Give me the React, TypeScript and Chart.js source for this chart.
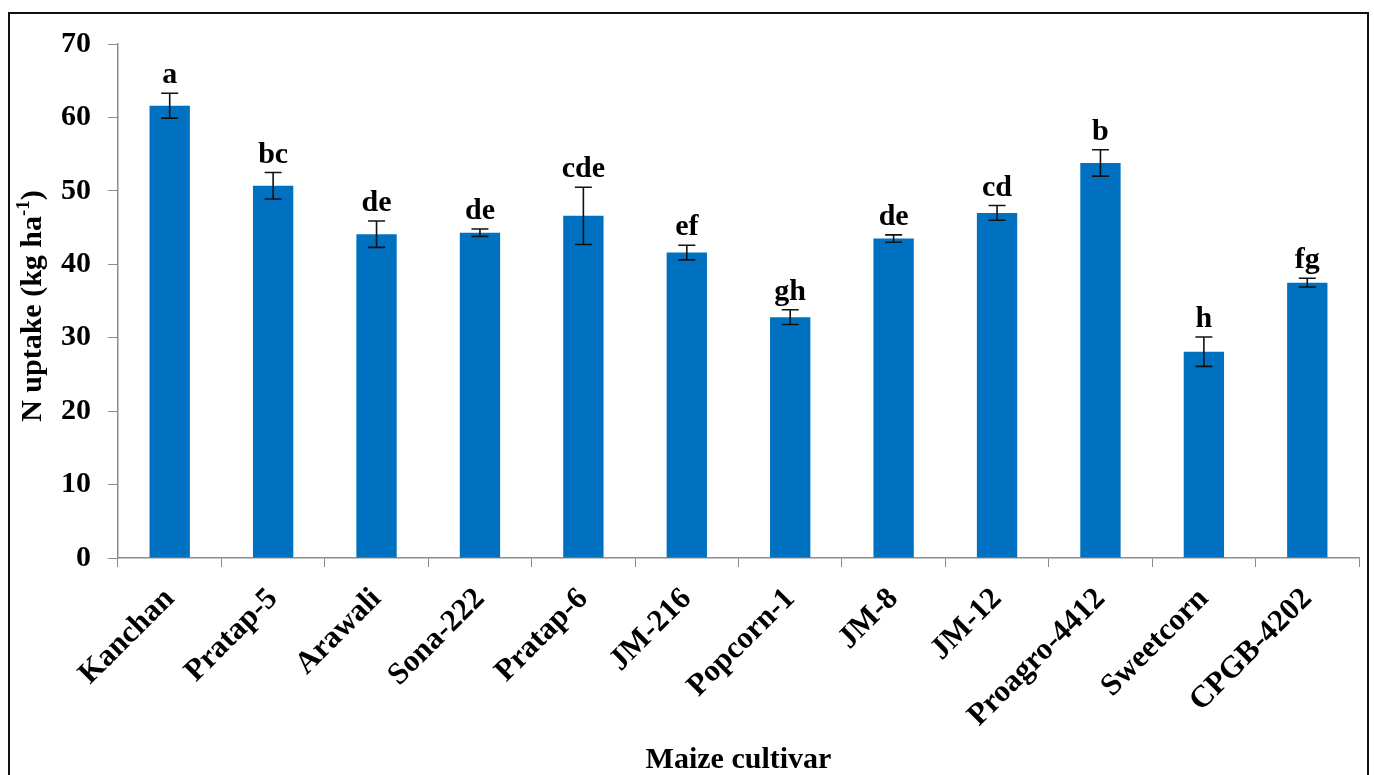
import React, { useEffect, useRef } from "react";
import { Chart, registerables } from "chart.js";

Chart.register(...registerables);

const categories = [
  "Kanchan",
  "Pratap-5",
  "Arawali",
  "Sona-222",
  "Pratap-6",
  "JM-216",
  "Popcorn-1",
  "JM-8",
  "JM-12",
  "Proagro-4412",
  "Sweetcorn",
  "CPGB-4202",
];
const nUptake = [61.6, 50.7, 44.1, 44.3, 46.6, 41.6, 32.8, 43.5, 47.0, 53.8, 28.1, 37.5];
const errors = [1.7, 1.8, 1.8, 0.5, 3.9, 1.0, 1.0, 0.5, 1.0, 1.8, 2.0, 0.6];
const letters = ["a", "bc", "de", "de", "cde", "ef", "gh", "de", "cd", "b", "h", "fg"];
const yMin = 0;
const yMax = 70;
const yStep = 10;
const xTitle = "Maize cultivar";
const yTitleMain = "N uptake (kg ha";
const yTitleSup = "-1";
const yTitleEnd = ")";

const FONT = "'Liberation Serif', 'Times New Roman', serif";
const AXIS_GRAY = "#8c8c8c";

const overlayPlugin = {
  id: "overlay",
  afterDatasetsDraw(chart: any) {
    const ctx = chart.ctx as CanvasRenderingContext2D;
    const xs = chart.scales.x;
    const ys = chart.scales.y;
    const area = chart.chartArea;
    ctx.save();
    // error bars + letters
    nUptake.forEach((v, i) => {
      const cx = xs.getPixelForValue(i);
      const top = ys.getPixelForValue(v + errors[i]);
      const bot = ys.getPixelForValue(v - errors[i]);
      ctx.strokeStyle = "#111";
      ctx.lineWidth = 1.6;
      ctx.beginPath();
      ctx.moveTo(cx, top);
      ctx.lineTo(cx, bot);
      ctx.moveTo(cx - 8.5, top);
      ctx.lineTo(cx + 8.5, top);
      ctx.moveTo(cx - 8.5, bot);
      ctx.lineTo(cx + 8.5, bot);
      ctx.stroke();
      ctx.fillStyle = "#000";
      ctx.font = `bold 30px ${FONT}`;
      ctx.textAlign = "center";
      ctx.textBaseline = "alphabetic";
      ctx.fillText(letters[i], cx, top - 10);
    });

    // x title
    ctx.fillStyle = "#000";
    ctx.font = `bold 30px ${FONT}`;
    ctx.textAlign = "center";
    ctx.textBaseline = "alphabetic";
    ctx.fillText(xTitle, (area.left + area.right) / 2, 768);

    // y title with superscript
    ctx.save();
    ctx.translate(33, (area.top + area.bottom) / 2 + 5);
    ctx.rotate(-Math.PI / 2);
    ctx.textAlign = "left";
    ctx.textBaseline = "middle";
    ctx.font = `bold 30px ${FONT}`;
    const w1 = ctx.measureText(yTitleMain).width;
    const w3 = ctx.measureText(yTitleEnd).width;
    ctx.font = `bold 19px ${FONT}`;
    const w2 = ctx.measureText(yTitleSup).width;
    const total = w1 + w2 + w3;
    let px = -total / 2;
    ctx.font = `bold 30px ${FONT}`;
    ctx.fillText(yTitleMain, px, 0);
    px += w1;
    ctx.font = `bold 19px ${FONT}`;
    ctx.fillText(yTitleSup, px, -9);
    px += w2;
    ctx.font = `bold 30px ${FONT}`;
    ctx.fillText(yTitleEnd, px, 0);
    ctx.restore();

    // outer frame
    ctx.strokeStyle = "#111";
    ctx.lineWidth = 2;
    ctx.strokeRect(9, 13, 1359, 800);
    ctx.restore();
  },
};

export default function App() {
  const canvasRef = useRef<HTMLCanvasElement | null>(null);

  useEffect(() => {
    if (!canvasRef.current) return;
    const chart = new Chart(canvasRef.current, {
      type: "bar",
      data: {
        labels: categories,
        datasets: [
          {
            data: nUptake,
            backgroundColor: "#0070C0",
            borderWidth: 0,
            barPercentage: 0.39,
            categoryPercentage: 1,
          },
        ],
      },
      options: {
        responsive: false,
        animation: false,
        layout: { padding: { left: 0, top: 44, right: 15, bottom: 0 } },
        plugins: {
          legend: { display: false },
          tooltip: { enabled: false },
          title: { display: false },
        },
        scales: {
          x: {
            afterFit(scale: any) {
              scale.height = 217;
            },
            grid: {
              display: true,
              drawOnChartArea: false,
              drawTicks: true,
              tickLength: 9,
              color: AXIS_GRAY,
              offset: true,
            },
            border: { display: true, color: AXIS_GRAY, width: 1.5 },
            ticks: {
              minRotation: 45,
              maxRotation: 45,
              autoSkip: false,
              color: "#000",
              padding: 14,
              font: { family: FONT, size: 31, weight: "bold" },
            },
          },
          y: {
            min: yMin,
            max: yMax,
            afterFit(scale: any) {
              scale.width = 118;
            },
            grid: {
              display: true,
              drawOnChartArea: false,
              drawTicks: true,
              tickLength: 10,
              color: AXIS_GRAY,
            },
            border: { display: true, color: AXIS_GRAY, width: 1.5 },
            ticks: {
              stepSize: yStep,
              color: "#000",
              padding: 17,
              font: { family: FONT, size: 30, weight: "bold" },
            },
          },
        },
      },
      plugins: [overlayPlugin],
    });
    return () => chart.destroy();
  }, []);

  return (
    <div
      style={{
        position: "fixed",
        left: 0,
        top: 0,
        width: 1374,
        height: 775,
        background: "#fff",
      }}
    >
      <canvas ref={canvasRef} width={1374} height={775} style={{ display: "block" }} />
    </div>
  );
}
